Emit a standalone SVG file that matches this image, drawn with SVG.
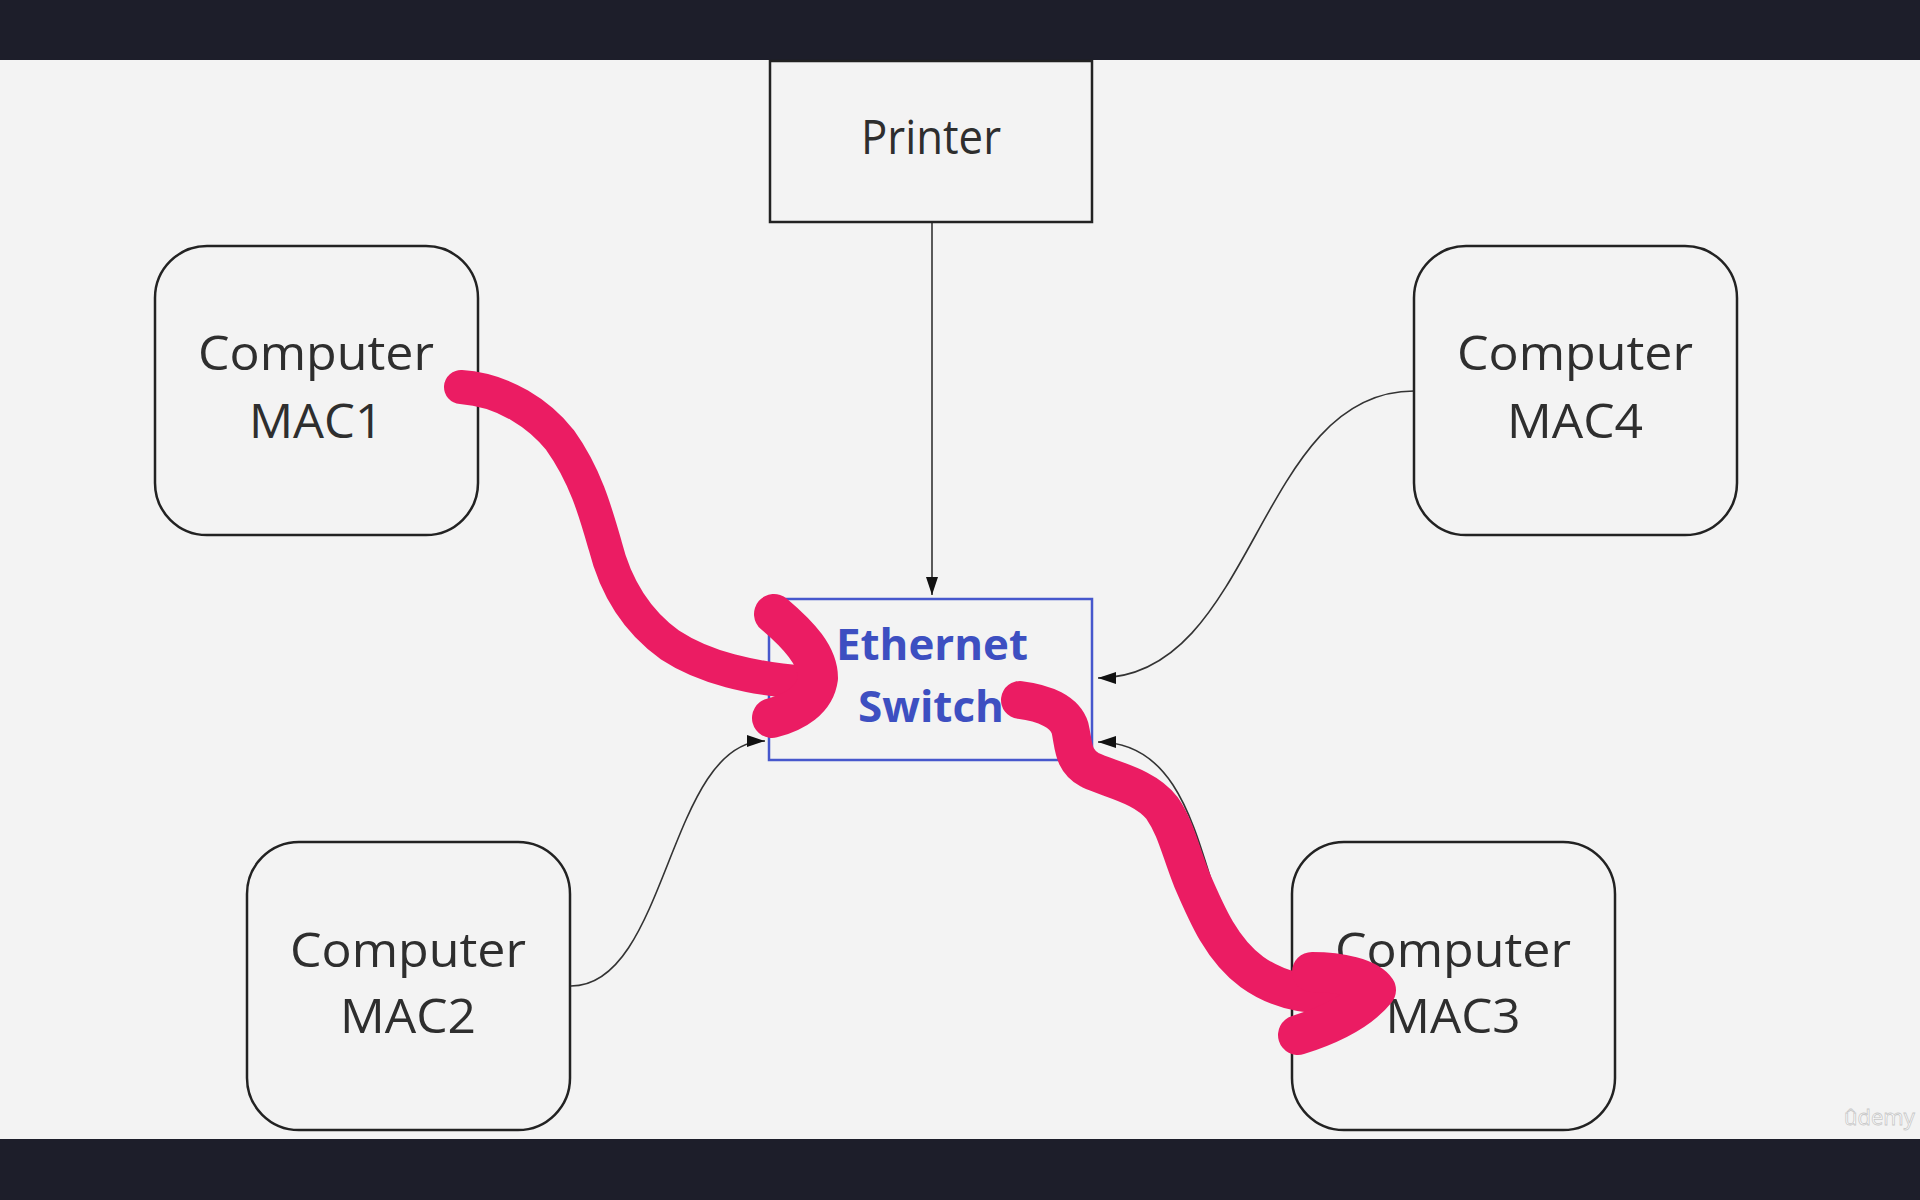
<svg xmlns="http://www.w3.org/2000/svg" width="1920" height="1200" viewBox="0 0 1920 1200">
<defs>
<style>
.node{fill:none;stroke:#222;stroke-width:2.5}
.lbl{font-family:"Open Sans","Liberation Sans",sans-serif;font-size:47px;fill:#2e2e2e;text-anchor:middle}
.sw{font-family:"Open Sans","Liberation Sans",sans-serif;font-size:43px;font-weight:bold;fill:#3d4fc1;text-anchor:middle}
.conn{fill:none;stroke:#333;stroke-width:1.6}
.hl{fill:none;stroke:#eb1c63;stroke-linecap:round;stroke-linejoin:round}
</style>
<marker id="arr" markerUnits="userSpaceOnUse" markerWidth="20" markerHeight="14" refX="18" refY="6" orient="auto">
<path d="M0,0 L18,6 L0,12 z" fill="#111"/>
</marker>
</defs>
<rect x="0" y="0" width="1920" height="1200" fill="#f3f3f3"/>
<rect x="0" y="0" width="1920" height="60" fill="#1d1e2a"/>
<rect x="0" y="1139" width="1920" height="61" fill="#1d1e2a"/>

<g id="connectors">
<path class="conn" d="M932,223 L932,595" marker-end="url(#arr)" stroke="#555"/>
<path class="conn" d="M1414,391 C1256,391 1256,678 1098,678" marker-end="url(#arr)"/>
<path class="conn" d="M571,986 C668,986 668,741 765,741" marker-end="url(#arr)"/>
<path class="conn" d="M1291,986 C1190,986 1230,742 1098,742" marker-end="url(#arr)"/>
</g>

<g id="printer">
<rect class="node" x="770" y="61" width="322" height="161"/>
<text class="lbl" x="931" y="154" textLength="140" lengthAdjust="spacingAndGlyphs">Printer</text>
</g>

<g id="mac1">
<rect class="node" x="155" y="246" width="323" height="289" rx="52"/>
<text class="lbl" x="316" y="370" textLength="236" lengthAdjust="spacingAndGlyphs">Computer</text>
<text class="lbl" x="316" y="438" textLength="134" lengthAdjust="spacingAndGlyphs">MAC1</text>
</g>

<g id="mac4">
<rect class="node" x="1414" y="246" width="323" height="289" rx="52"/>
<text class="lbl" x="1575" y="370" textLength="236" lengthAdjust="spacingAndGlyphs">Computer</text>
<text class="lbl" x="1575" y="438" textLength="136" lengthAdjust="spacingAndGlyphs">MAC4</text>
</g>

<g id="mac2">
<rect class="node" x="247" y="842" width="323" height="288" rx="52"/>
<text class="lbl" x="408" y="967" textLength="236" lengthAdjust="spacingAndGlyphs">Computer</text>
<text class="lbl" x="408" y="1033" textLength="136" lengthAdjust="spacingAndGlyphs">MAC2</text>
</g>

<g id="mac3">
<rect class="node" x="1292" y="842" width="323" height="288" rx="52"/>
<text class="lbl" x="1453" y="967" textLength="236" lengthAdjust="spacingAndGlyphs">Computer</text>
<text class="lbl" x="1453" y="1033" textLength="135" lengthAdjust="spacingAndGlyphs">MAC3</text>
</g>

<g id="switch">
<rect x="769" y="599" width="323" height="161" fill="none" stroke="#4657cc" stroke-width="2.5"/>
<text class="sw" x="932" y="660" textLength="192" lengthAdjust="spacingAndGlyphs">Ethernet</text>
<text class="sw" x="931" y="722" textLength="146" lengthAdjust="spacingAndGlyphs">Switch</text>
</g>

<g id="highlight">
<path class="hl" stroke-width="34" d="M461,387 C505,390 540,415 560,440 C585,475 595,510 605,545 C615,585 635,620 670,645 C705,668 750,678 805,683"/>
<path class="hl" stroke-width="40" d="M774,614 C800,636 818,656 818,678 C815,700 795,712 772,718"/>
<path class="hl" stroke-width="38" d="M1020,700 C1045,703 1065,712 1070,728 C1074,745 1072,760 1090,770 C1112,780 1145,786 1162,808 C1176,828 1180,850 1192,880 C1207,915 1222,950 1252,972 C1277,990 1310,998 1350,994"/>
<path class="hl" stroke-width="40" d="M1312,972 C1340,972 1368,978 1376,990 C1360,1010 1330,1025 1298,1035"/>
</g>

<text x="1844" y="1125" font-family="Open Sans, Liberation Sans, sans-serif" font-size="22" fill="#ffffff" stroke="#c8c8c8" stroke-width="0.8">ûdemy</text>
</svg>
